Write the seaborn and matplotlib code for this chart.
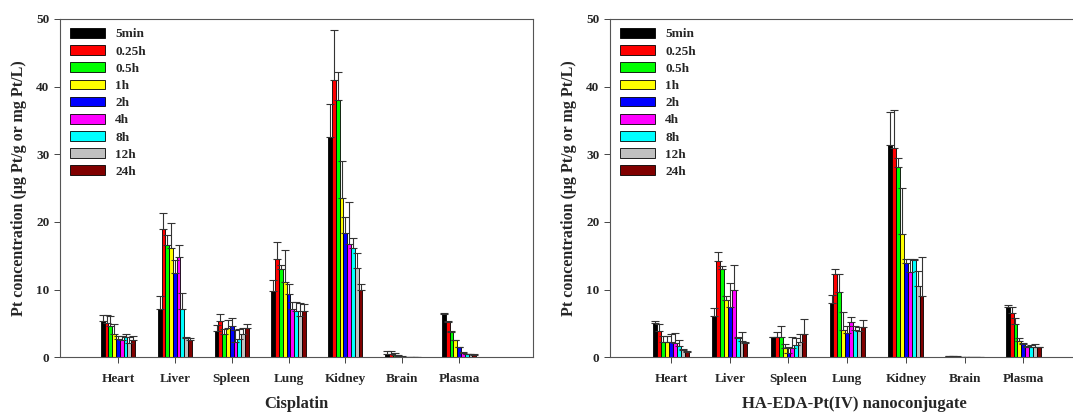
import numpy as np
import pandas as pd
import matplotlib
matplotlib.use("Agg")
import matplotlib.pyplot as plt
import seaborn as sns

organs = ["Heart", "Liver", "Spleen", "Lung", "Kidney", "Brain", "Plasma"]
times = ["5min", "0.25h", "0.5h", "1h", "2h", "4h", "8h", "12h", "24h"]
colors = ["#000000", "#ff0000", "#00ff00", "#ffff00", "#0000ff",
          "#ff00ff", "#00ffff", "#c0c0c0", "#800000"]

# Cisplatin - mean per time point (rows), organs in columns
cis_mean = [
    [5.4, 7.1, 3.9, 9.8, 32.5, 0.5, 6.4],
    [5.0, 19.0, 5.3, 14.6, 41.0, 0.5, 5.2],
    [4.7, 16.6, 3.4, 13.0, 38.0, 0.35, 3.7],
    [3.4, 16.1, 4.3, 11.2, 23.6, 0.2, 2.5],
    [2.7, 12.5, 4.7, 9.4, 18.3, 0.1, 1.5],
    [2.6, 14.9, 2.3, 7.1, 16.7, 0.08, 0.7],
    [3.0, 7.2, 2.7, 6.9, 16.1, 0.06, 0.5],
    [2.1, 2.8, 3.4, 6.1, 13.2, 0.05, 0.45],
    [2.5, 2.5, 4.4, 6.9, 9.9, 0.05, 0.4],
]
# top of the error bar (mean + sd)
cis_upper = [
    [6.25, 9.0, 4.8, 11.4, 37.5, 0.9, 6.5],
    [6.25, 21.3, 6.4, 17.1, 48.4, 0.9, 5.4],
    [6.15, 18.1, 4.2, 13.7, 42.1, 0.6, 3.9],
    [4.9, 19.9, 5.5, 15.9, 29.0, 0.35, 2.6],
    [3.2, 14.4, 5.8, 10.9, 20.8, 0.15, 1.6],
    [3.2, 16.6, 4.0, 8.2, 22.9, 0.1, 0.75],
    [3.4, 9.5, 4.2, 8.2, 17.7, 0.08, 0.55],
    [3.05, 3.05, 4.3, 8.0, 15.4, 0.06, 0.5],
    [3.15, 2.8, 4.9, 7.9, 10.8, 0.06, 0.45],
]

# HA-EDA-Pt(IV) nanoconjugate
ha_mean = [
    [5.0, 6.1, 2.95, 8.1, 31.4, 0.15, 7.5],
    [3.9, 14.2, 2.95, 12.3, 30.9, 0.15, 6.6],
    [2.3, 13.0, 3.05, 9.6, 28.1, 0.1, 4.9],
    [2.2, 8.5, 1.45, 4.1, 18.2, 0.03, 2.4],
    [2.3, 7.5, 0.7, 3.6, 14.0, 0.02, 2.0],
    [2.1, 10.0, 1.35, 5.2, 12.6, 0.02, 1.6],
    [1.7, 2.8, 1.8, 4.1, 14.4, 0.02, 1.6],
    [1.1, 2.4, 2.2, 3.9, 10.6, 0.02, 1.6],
    [0.85, 2.1, 3.4, 4.5, 9.0, 0.02, 1.5],
]
ha_upper = [
    [5.3, 7.3, 3.05, 9.2, 36.2, 0.25, 7.8],
    [4.9, 15.6, 3.7, 13.1, 36.5, 0.25, 7.4],
    [3.2, 13.5, 4.7, 12.3, 29.4, 0.15, 5.8],
    [3.2, 9.1, 2.0, 6.7, 25.0, 0.05, 2.9],
    [3.4, 11.0, 1.6, 4.6, 14.5, 0.03, 2.1],
    [3.6, 13.6, 2.95, 6.0, 14.5, 0.03, 1.7],
    [2.5, 3.0, 2.9, 4.7, 14.6, 0.03, 1.8],
    [1.3, 3.7, 3.4, 4.5, 12.8, 0.03, 1.9],
    [1.0, 2.2, 5.6, 5.5, 14.9, 0.03, 1.6],
]

sns.set_style("ticks")
plt.rcParams["font.family"] = ["Liberation Serif", "DejaVu Serif"]
plt.rcParams["font.weight"] = "bold"
plt.rcParams["axes.labelweight"] = "bold"


def long_table(means, uppers):
    rows = []
    for t, mrow, urow in zip(times, means, uppers):
        for o, m, u in zip(organs, mrow, urow):
            rows.append({"organ": o, "time": t, "value": m, "upper": u})
    return pd.DataFrame(rows)


def panel(ax, means, uppers, title, xlim):
    df = long_table(means, uppers)
    sns.barplot(data=df, x="organ", y="value", hue="time", order=organs,
                hue_order=times, palette=colors, saturation=1, width=0.6,
                edgecolor="black", linewidth=0.6, errorbar=None, ax=ax)
    # upper-only error bars, like the original sigmaplot figure
    bar_conts = list(ax.containers)
    for i, cont in enumerate(bar_conts):
        xs = [b.get_x() + b.get_width() / 2 for b in cont]
        hs = np.array([b.get_height() for b in cont])
        err = np.array(uppers[i]) - hs
        ax.errorbar(xs, hs, yerr=[np.zeros_like(err), err], fmt="none",
                    ecolor="#333333", elinewidth=0.8, capsize=3.2,
                    capthick=0.8, zorder=1)
    ax.set_ylim(0, 50)
    ax.set_xlim(*xlim)
    ax.set_yticks(range(0, 51, 10))
    ax.set_xlabel(title, fontsize=12, labelpad=8)
    ax.set_ylabel("Pt concentration (μg Pt/g or mg Pt/L)", fontsize=11.5,
                  labelpad=7)
    ax.tick_params(axis="both", labelsize=9.5, length=4, width=0.7,
                   color="#444444")
    ax.tick_params(axis="x", pad=7)
    for s in ax.spines.values():
        s.set_visible(True)
        s.set_color("#555555")
        s.set_linewidth(0.8)
    leg = ax.legend(loc="upper left", bbox_to_anchor=(0.012, 0.985),
                    frameon=False, fontsize=9.5, handlelength=2.7,
                    handleheight=0.75, handletextpad=0.75, labelspacing=0.36,
                    borderaxespad=0, borderpad=0.3)
    for txt in leg.get_texts():
        txt.set_fontweight("bold")


fig = plt.figure(figsize=(10.73, 4.12), dpi=100)
ax1 = fig.add_axes([0.0559, 0.1327, 0.4408, 0.8212])
ax2 = fig.add_axes([0.5685, 0.1327, 0.4563, 0.8212])

panel(ax1, cis_mean, cis_upper, "Cisplatin", (-1.02, 7.3))
panel(ax2, ha_mean, ha_upper, "HA-EDA-Pt(IV) nanoconjugate", (-1.04, 7.3))

fig.savefig("out.png", dpi=100)
